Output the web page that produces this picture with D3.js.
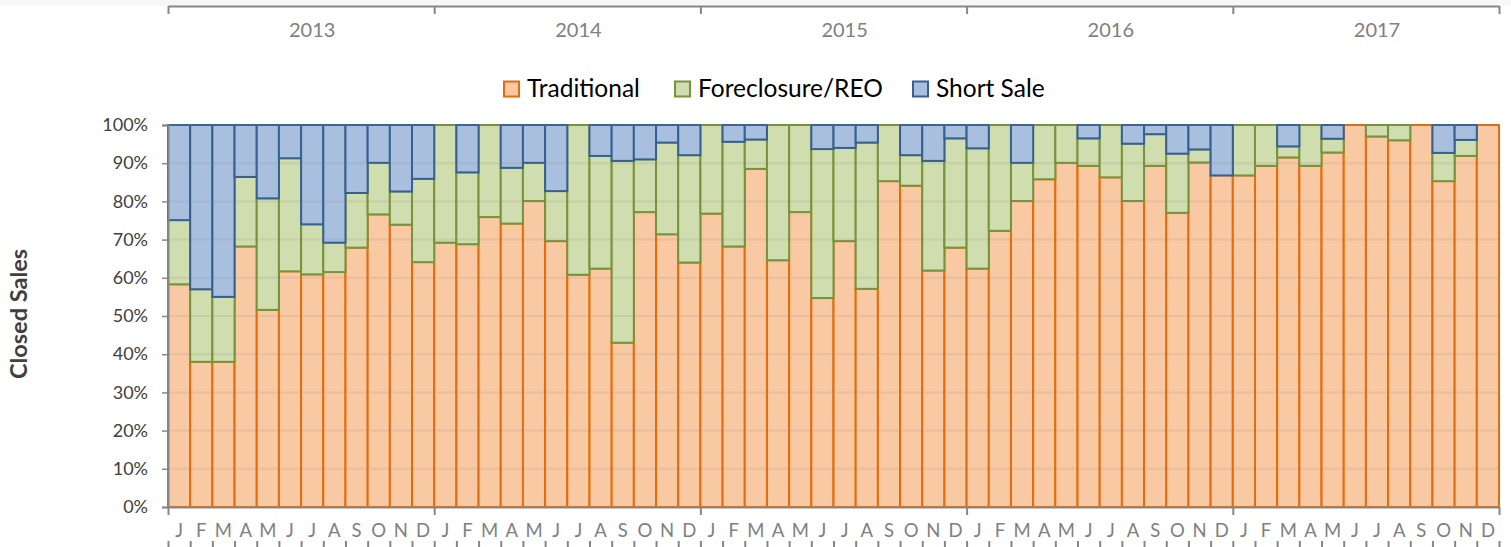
<!DOCTYPE html>
<html>
<head>
<meta charset="utf-8">
<script src="https://cdn.jsdelivr.net/npm/d3@7"></script>
<style>
  html, body { margin: 0; padding: 0; background: #fff; }
  svg { display: block; font-family: Lato, "Open Sans", sans-serif; }
</style>
</head>
<body>
<svg id="chart" width="1511" height="547"></svg>
<script>
// ---- Data (percent of closed sales) ----
const years = ["2013", "2014", "2015", "2016", "2017"];
const monthLetters = ["J","F","M","A","M","J","J","A","S","O","N","D"];
const seriesNames = ["Traditional", "Foreclosure/REO", "Short Sale"];
const yTicks = [0, 10, 20, 30, 40, 50, 60, 70, 80, 90, 100];

const traditional = [
  58.3, 38.0, 38.0, 68.2, 51.6, 61.7, 60.9, 61.5, 67.9, 76.6, 73.9, 64.1,
  69.2, 68.8, 75.9, 74.2, 80.1, 69.6, 60.8, 62.4, 43.0, 77.2, 71.4, 64.0,
  76.8, 68.2, 88.5, 64.6, 77.2, 54.7, 69.6, 57.1, 85.3, 84.1, 61.9, 67.9,
  62.4, 72.3, 80.1, 85.8, 90.1, 89.3, 86.3, 80.1, 89.3, 77.0, 90.2, 86.8,
  86.8, 89.3, 91.5, 89.3, 92.8, 100, 97.0, 96.0, 100, 85.3, 91.9, 100
];
const foreclosure = [
  16.8, 19.0, 17.0, 18.2, 29.2, 29.6, 13.1, 7.7, 14.3, 13.5, 8.7, 21.8,
  30.8, 18.8, 24.1, 14.6, 10.0, 13.1, 39.2, 29.5, 47.6, 13.8, 24.0, 28.1,
  23.2, 27.4, 7.7, 35.4, 22.8, 39.0, 24.4, 38.3, 14.7, 8.0, 28.7, 28.6,
  31.5, 27.7, 10.0, 14.2, 9.9, 7.2, 13.7, 15.0, 8.3, 15.5, 3.4, 0,
  13.2, 10.7, 2.9, 10.7, 3.6, 0, 3.0, 4.0, 0, 7.4, 4.2, 0
];
const shortSale = [
  24.9, 43.0, 45.0, 13.6, 19.2, 8.7, 26.0, 30.8, 17.8, 9.9, 17.4, 14.1,
  0, 12.4, 0, 11.2, 9.9, 17.3, 0, 8.1, 9.4, 9.0, 4.6, 7.9,
  0, 4.4, 3.8, 0, 0, 6.3, 6.0, 4.6, 0, 7.9, 9.4, 3.5,
  6.1, 0, 9.9, 0, 0, 3.5, 0, 4.9, 2.4, 7.5, 6.4, 13.2,
  0, 0, 5.6, 0, 3.6, 0, 0, 0, 0, 7.3, 3.9, 0
];

// ---- Styles ----
const fills   = ["#F9C9A3", "#D0DDAE", "#A8BFDE"];
const strokes = ["#E46C0A", "#77933C", "#376092"];

const svg = d3.select("#chart");
const W = 1511, H = 547;
const plotL = 168, plotR = 1499, plotT = 125, plotB = 507;
const n = traditional.length;

// faint top band
svg.append("rect").attr("x", 0).attr("y", 0).attr("width", W).attr("height", 6).attr("fill", "#f6f7fb");

const x = d3.scaleBand().domain(d3.range(n)).range([plotL, plotR]).padding(0);
const xLin = d3.scaleLinear().domain([0, n]).range([plotL, plotR]);
const y = d3.scaleLinear().domain([0, 100]).range([plotB, plotT]);

// stacked data
const rows = d3.range(n).map(i => ({ i, t: traditional[i], f: foreclosure[i], s: shortSale[i] }));
const stack = d3.stack().keys(["t", "f", "s"]);
const layers = stack(rows);

// bars
layers.forEach((layer, k) => {
  svg.append("g")
    .selectAll("rect")
    .data(layer.filter(d => d[1] - d[0] > 0))
    .join("rect")
    .attr("x", d => x(d.data.i))
    .attr("width", x.bandwidth())
    .attr("y", d => y(d[1]))
    .attr("height", d => y(d[0]) - y(d[1]))
    .attr("fill", fills[k])
    .attr("stroke", strokes[k])
    .attr("stroke-width", 2);
});

// gridlines (show through the bars)
svg.append("g")
  .selectAll("line")
  .data(yTicks.filter(v => v > 0))
  .join("line")
  .attr("x1", plotL).attr("x2", plotR)
  .attr("y1", d => y(d)).attr("y2", d => y(d))
  .attr("stroke", "#7f7f7f").attr("stroke-opacity", 0.14).attr("stroke-width", 2);

const axisColor = "#868686";

// y axis
const yAxis = svg.append("g")
  .attr("transform", `translate(${plotL},0)`)
  .call(d3.axisLeft(y).tickValues(yTicks).tickSize(6).tickPadding(14).tickFormat(d => d + "%"));
yAxis.select(".domain").attr("stroke", axisColor).attr("stroke-width", 2);
yAxis.selectAll(".tick line").attr("stroke", axisColor).attr("stroke-width", 1.5);
yAxis.selectAll(".tick text").attr("fill", "#404040").style("font-size", "18px").style("font-family", "Lato");

// bottom axis line with year-boundary ticks
const yearBounds = d3.range(0, n + 1, 12);
const xb = svg.append("g")
  .attr("transform", `translate(0,${plotB})`)
  .call(d3.axisBottom(xLin).tickValues(yearBounds).tickSize(8).tickSizeOuter(0).tickFormat(""));
xb.select(".domain").attr("stroke", axisColor).attr("stroke-width", 2);
xb.selectAll(".tick line").attr("stroke", axisColor).attr("stroke-width", 2);

// month letters
const xm = svg.append("g")
  .attr("transform", `translate(0,${plotB + 14})`)
  .call(d3.axisBottom(x).tickSize(0).tickFormat(i => monthLetters[i % 12]));
xm.select(".domain").remove();
xm.selectAll(".tick text").attr("fill", "#808080").style("font-size", "18.5px").style("font-family", "Lato");

// lower month-boundary ticks
const xt = svg.append("g")
  .attr("transform", `translate(0,${541})`)
  .call(d3.axisBottom(xLin).tickValues(d3.range(n + 1)).tickSize(8).tickFormat(""));
xt.select(".domain").remove();
xt.selectAll(".tick line").attr("stroke", axisColor).attr("stroke-width", 2);

// top year axis
const xTop = svg.append("g")
  .attr("transform", `translate(0,6)`)
  .call(d3.axisBottom(xLin).tickValues(yearBounds).tickSize(8).tickSizeOuter(0).tickFormat(""));
xTop.select(".domain").attr("stroke", axisColor).attr("stroke-width", 2);
xTop.selectAll(".tick line").attr("stroke", axisColor).attr("stroke-width", 2);

svg.append("g")
  .selectAll("text")
  .data(years)
  .join("text")
  .attr("x", (d, j) => xLin(j * 12 + 6.5))
  .attr("y", 37)
  .attr("text-anchor", "middle")
  .attr("fill", "#808080")
  .style("font-size", "20px")
  .text(d => d);

// legend
const legendX = [504, 675, 913];
const lg = svg.append("g");
seriesNames.forEach((name, k) => {
  lg.append("rect")
    .attr("x", legendX[k]).attr("y", 81.5).attr("width", 15).attr("height", 15)
    .attr("fill", fills[k]).attr("stroke", strokes[k]).attr("stroke-width", 2);
  lg.append("text")
    .attr("x", legendX[k] + 23).attr("y", 97)
    .attr("fill", "#000")
    .style("font-size", "24.5px")
    .text(name);
});

// y axis title
svg.append("text")
  .attr("transform", `translate(26.5,314) rotate(-90)`)
  .attr("text-anchor", "middle")
  .attr("fill", "#404040")
  .style("font-size", "23.5px")
  .style("font-weight", "bold")
  .text("Closed Sales");
</script>
</body>
</html>
